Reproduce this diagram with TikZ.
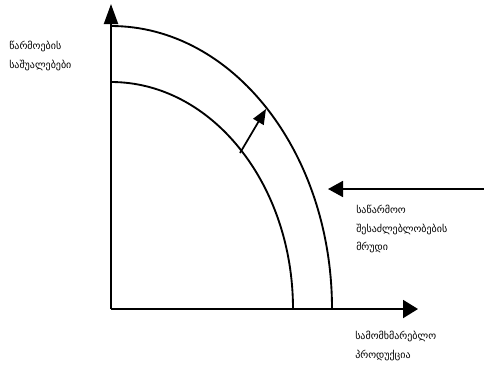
\documentclass[tikz,border=0pt]{standalone}
\usepackage{fontspec}
\newfontfamily\geofont{DejaVu Sans}
\usetikzlibrary{arrows.meta}
\begin{document}
\begin{tikzpicture}[x=0.75pt,y=-0.75pt,
  axis/.style={line width=1.5pt},
  curve/.style={line width=1.4pt},
  lbl/.style={font=\geofont\fontsize{7.5}{13.8}\selectfont, anchor=north west, inner sep=0pt, align=left}]
\useasboundingbox (0,0) rectangle (484,369);
\coordinate (O) at (111,309);
\coordinate (Ytop) at (111,4);
\coordinate (Xend) at (418,309);
\coordinate (Astart) at (484,189);
\coordinate (Atip) at (328,189);
\coordinate (Rstart) at (240,153);
\coordinate (Rtip) at (266,109);
% axes
\draw[axis,-{Triangle[length=15pt,width=10.5pt]}] (O) -- (Ytop);
\draw[axis,-{Triangle[length=11.25pt,width=13.5pt]}] (O) -- (Xend);
% curves
\draw[curve] (111,26) arc[start angle=90,end angle=0,x radius=221,y radius=-283];
\draw[curve] (111,82) arc[start angle=90,end angle=0,x radius=182,y radius=-227];
% arrows
\draw[line width=1.3pt,-{Triangle[length=11.25pt,width=12pt]}] (Astart) -- (Atip);
\draw[line width=1.3pt,-{Triangle[length=11.25pt,width=9pt]}] (Rstart) -- (Rtip);
% labels
\node[lbl] (ylab) at (9,41) {წარმოების\\საშუალებები};
\node[lbl] (clab) at (356,205) {საწარმოო\\შესაძლებლობების\\მრუდი};
\node[lbl] (xlab) at (355,331) {სამომხმარებლო\\პროდუქცია};
\end{tikzpicture}
\end{document}
